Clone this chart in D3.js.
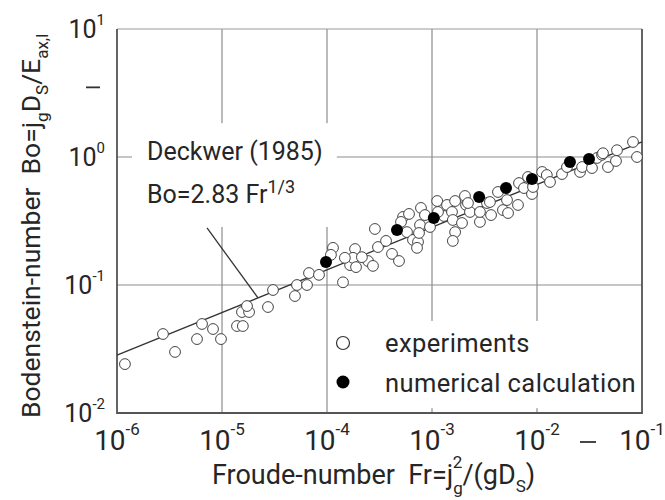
<!DOCTYPE html>
<html>
<head>
<meta charset="utf-8">
<script src="https://cdn.jsdelivr.net/npm/d3@7/dist/d3.min.js"></script>
<style>
  body { margin: 0; background: #fff; }
  text { font-family: Roboto, 'DejaVu Sans Condensed', sans-serif; fill: #262626; }
</style>
</head>
<body>
<div id="viz"></div>
<script>
// experiments (open circles)
var expFr = [1.19e-6, 2.74e-6, 3.57e-6, 5.78e-6, 6.45e-6, 8.21e-6, 9.78e-6, 1.39e-5, 1.58e-5, 1.55e-5,
             1.81e-5, 1.73e-5, 2.74e-5, 3.06e-5, 4.95e-5, 5.18e-5, 6.45e-5, 6.74e-5, 8.39e-5, 1.14e-4,
             1.09e-4, 1.42e-4, 1.66e-4, 1.85e-4, 1.77e-4, 1.89e-4, 2.46e-4, 2.74e-4, 2.86e-4, 3.06e-4,
             3.65e-4, 4.16e-4, 4.85e-4, 5.30e-4, 5.07e-4, 6.04e-4, 5.78e-4, 6.59e-4, 7.36e-4, 7.20e-4,
             7.69e-4, 7.85e-4, 7.52e-4, 8.57e-4, 9.57e-4, 1.12e-3, 1.30e-3, 1.39e-3, 1.55e-3, 1.58e-3,
             1.66e-3, 1.58e-3, 1.66e-3, 1.93e-3, 2.06e-3, 2.11e-3, 2.30e-3, 2.86e-3, 3.34e-3, 2.86e-3,
             1.14e-3, 2.20e-3, 3.56e-3, 3.65e-3, 4.25e-3, 4.74e-3, 5.30e-3, 5.18e-3, 6.59e-3, 6.74e-3,
             7.52e-3, 8.21e-3, 8.96e-3, 9.16e-3, 1.12e-2, 1.24e-2, 1.33e-2, 1.73e-2, 1.93e-2, 2.57e-2,
             2.69e-2, 3.34e-2, 3.73e-2, 4.16e-2, 4.74e-2, 5.78e-2, 5.65e-2, 8.21e-2, 8.96e-2, 4.25e-2,
             1.48e-4, 2.15e-4];
var expBo = [0.0241, 0.0414, 0.0300, 0.0378, 0.0496, 0.0453, 0.0378, 0.0478, 0.0478, 0.0615,
             0.0615, 0.0685, 0.0673, 0.0914, 0.0820, 0.100, 0.100, 0.124, 0.120, 0.195,
             0.172, 0.105, 0.143, 0.191, 0.163, 0.138, 0.154, 0.141, 0.274, 0.198,
             0.221, 0.175, 0.154, 0.340, 0.311, 0.359, 0.259, 0.225, 0.217, 0.195,
             0.294, 0.400, 0.255, 0.352, 0.284, 0.453, 0.346, 0.422, 0.372, 0.322,
             0.259, 0.221, 0.453, 0.305, 0.496, 0.422, 0.372, 0.311, 0.437, 0.372,
             0.372, 0.437, 0.445, 0.352, 0.533, 0.385, 0.365, 0.461, 0.422, 0.626,
             0.572, 0.698, 0.514, 0.583, 0.764, 0.723, 0.638, 0.736, 0.835, 0.764,
             0.835, 0.820, 0.983, 1.04, 0.835, 1.13, 0.931, 1.31, 1.00, 1.07,
             0.163, 0.165];

// numerical calculation (filled circles)
var calcFr = [9.78e-5, 4.64e-4, 1.04e-3, 2.81e-3, 5.07e-3, 8.96e-3, 2.06e-2, 3.13e-2];
var calcBo = [0.151, 0.269, 0.334, 0.487, 0.572, 0.673, 0.914, 0.964];

// Deckwer (1985) correlation Bo = 2.83 Fr^(1/3), end points
var fitFr = [1e-6, 1e-1];
var fitBo = [0.0283, 1.314];

var xTicks = [1e-6, 1e-5, 1e-4, 1e-3, 1e-2, 1e-1];
var xTickExp = ['-6', '-5', '-4', '-3', '-2', '-1'];
var yTicks = [1e-2, 1e-1, 1e0, 1e1];
var yTickExp = ['-2', '-1', '0', '1'];
var xGrid = [1e-5, 1e-4, 1e-3, 1e-2];
var yGrid = [1e-1, 1e0];
var legendLabels = ['experiments', 'numerical calculation'];

var margin = { top: 29, right: 23, bottom: 87, left: 117 },
    width = 525,
    height = 384;

var x = d3.scaleLog().domain([1e-6, 1e-1]).range([0, width]);
var y = d3.scaleLog().domain([1e-2, 1e1]).range([height, 0]);

var svg = d3.select('#viz').append('svg')
    .attr('width', width + margin.left + margin.right)
    .attr('height', height + margin.top + margin.bottom);

var g = svg.append('g')
    .attr('transform', 'translate(' + margin.left + ',' + margin.top + ')');

// grid
g.selectAll('.vgrid').data(xGrid).enter().append('line')
    .attr('x1', x).attr('x2', x)
    .attr('y1', 0).attr('y2', height)
    .attr('stroke', '#8c8c8c').attr('stroke-width', 1.2);
g.selectAll('.hgrid').data(yGrid).enter().append('line')
    .attr('x1', 0).attr('x2', width)
    .attr('y1', y).attr('y2', y)
    .attr('stroke', '#8c8c8c').attr('stroke-width', 1.2);

// white areas behind the annotation and the legend
g.append('rect')
    .attr('x', x(1.39e-6)).attr('y', y(1.84))
    .attr('width', x(1.24e-4) - x(1.39e-6))
    .attr('height', y(0.284) - y(1.84))
    .attr('fill', '#fff');
g.append('rect')
    .attr('x', x(1.19e-4)).attr('y', y(0.0524))
    .attr('width', width - x(1.19e-4))
    .attr('height', y(0.0109) - y(0.0524))
    .attr('fill', '#fff');

// frame (top edge lighter)
g.append('line')
    .attr('x1', 0).attr('x2', width).attr('y1', 0).attr('y2', 0)
    .attr('stroke', '#999').attr('stroke-width', 1.2);
g.append('path')
    .attr('d', 'M0,0V' + height + 'H' + width + 'V0')
    .attr('fill', 'none').attr('stroke', '#555').attr('stroke-width', 1.8);

// correlation line
var line = d3.line()
    .x(function(d) { return x(d[0]); })
    .y(function(d) { return y(d[1]); });
g.append('path')
    .datum(d3.zip(fitFr, fitBo))
    .attr('d', line)
    .attr('fill', 'none').attr('stroke', '#333').attr('stroke-width', 1.3);

// leader line from label to correlation
g.append('line')
    .attr('x1', x(7.2e-6)).attr('y1', y(0.279))
    .attr('x2', x(2.2e-5)).attr('y2', y(2.83 * Math.cbrt(2.2e-5)))
    .attr('stroke', '#333').attr('stroke-width', 1.3);

// experiments
g.selectAll('.exp').data(d3.zip(expFr, expBo)).enter().append('circle')
    .attr('cx', function(d) { return x(d[0]); })
    .attr('cy', function(d) { return y(d[1]); })
    .attr('r', 5.4)
    .attr('fill', '#fff').attr('stroke', '#444').attr('stroke-width', 1);

// numerical calculation
g.selectAll('.calc').data(d3.zip(calcFr, calcBo)).enter().append('circle')
    .attr('cx', function(d) { return x(d[0]); })
    .attr('cy', function(d) { return y(d[1]); })
    .attr('r', 6)
    .attr('fill', '#000');

// annotation text
g.append('text')
    .attr('x', 30).attr('y', 131)
    .style('font-size', '25px')
    .text('Deckwer (1985)');
var ann = g.append('text')
    .attr('x', 30).attr('y', 174)
    .style('font-size', '25px');
ann.append('tspan').text('Bo=2.83 Fr');
ann.append('tspan').attr('dy', -10).style('font-size', '18px').text('1/3');

// x tick labels
var xl = g.selectAll('.xlab').data(xTicks).enter().append('text')
    .attr('x', x).attr('y', height + 37)
    .attr('text-anchor', 'middle')
    .style('font-size', '28px');
xl.append('tspan').text('10');
xl.append('tspan').attr('dy', -15).style('font-size', '17px')
    .text(function(d, i) { return xTickExp[i]; });

// x dash between 10^-2 and 10^-1
g.append('line')
    .attr('x1', x(0.0306) - 8).attr('x2', x(0.0306) + 8)
    .attr('y1', height + 29).attr('y2', height + 29)
    .attr('stroke', '#333').attr('stroke-width', 1.8);

// y tick labels
var yl = g.selectAll('.ylab').data(yTicks).enter().append('text')
    .attr('x', -12).attr('y', function(d) { return y(d) + 9; })
    .attr('text-anchor', 'end')
    .style('font-size', '25px');
yl.append('tspan').text('10');
yl.append('tspan').attr('dy', -13).style('font-size', '15px')
    .text(function(d, i) { return yTickExp[i]; });

// y dash between 10^0 and 10^1
g.append('line')
    .attr('x1', -31).attr('x2', -17)
    .attr('y1', y(3.5)).attr('y2', y(3.5))
    .attr('stroke', '#333').attr('stroke-width', 1.8);

// x axis title
var xt = g.append('text')
    .attr('x', 95).attr('y', height + 71)
    .style('font-size', '27px');
xt.append('tspan').text('Froude-number\u00a0\u00a0Fr=j');
xt.append('tspan').attr('dy', 10).style('font-size', '17px').text('g');
xt.append('tspan').attr('dy', -26).attr('dx', -10).style('font-size', '17px').text('2');
xt.append('tspan').attr('dy', 16).text('/(gD');
xt.append('tspan').attr('dy', 8).style('font-size', '17px').text('S');
xt.append('tspan').attr('dy', -8).text(')');

// y axis title
var yt = g.append('text')
    .attr('transform', 'translate(-77,' + (height + 5) + ') rotate(-90)')
    .style('font-size', '26.5px');
yt.append('tspan').text('Bodenstein-number\u00a0\u00a0Bo=j');
yt.append('tspan').attr('dy', 8).style('font-size', '17px').text('g');
yt.append('tspan').attr('dy', -8).text('D');
yt.append('tspan').attr('dy', 8).style('font-size', '17px').text('S');
yt.append('tspan').attr('dy', -8).text('/E');
yt.append('tspan').attr('dy', 8).style('font-size', '17px').text('ax,l');

// legend
var legend = g.append('g').attr('transform', 'translate(226,314)');
legend.append('circle').attr('cx', 0).attr('cy', 0).attr('r', 6.5)
    .attr('fill', '#fff').attr('stroke', '#333').attr('stroke-width', 1.2);
legend.append('circle').attr('cx', 0).attr('cy', 39).attr('r', 6.5)
    .attr('fill', '#000');
legend.selectAll('.ltext').data(legendLabels).enter().append('text')
    .attr('x', 42).attr('y', function(d, i) { return 9 + i * 40; })
    .style('font-size', '25.5px')
    .style('letter-spacing', '0.4px')
    .text(function(d) { return d; });
</script>
</body>
</html>
